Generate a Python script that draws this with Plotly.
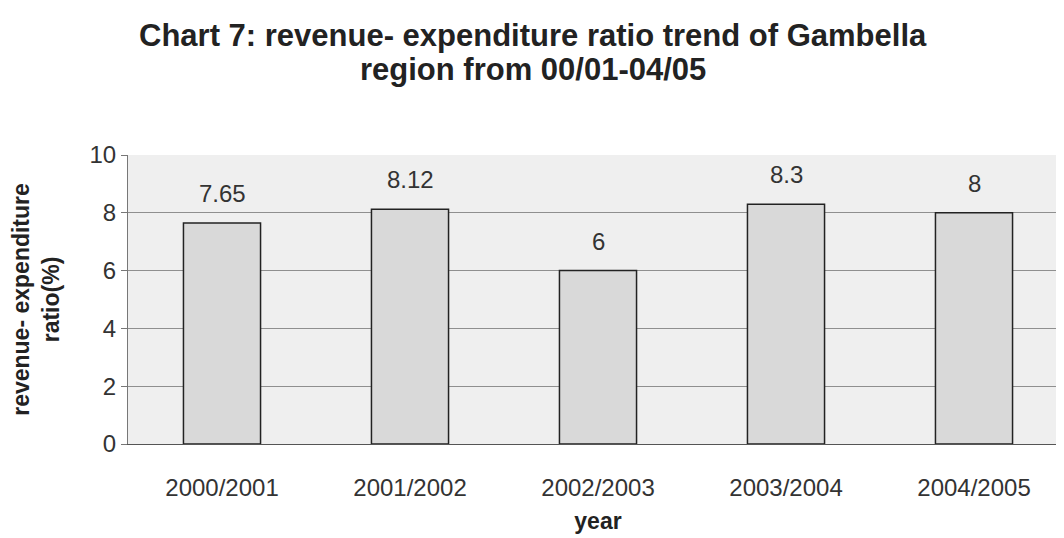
import plotly.graph_objects as go

years = ["2000/2001", "2001/2002", "2002/2003", "2003/2004", "2004/2005"]
ratios = [7.65, 8.12, 6, 8.3, 8]
labels = ["7.65", "8.12", "6", "8.3", "8"]

FONT = "Liberation Sans, Arial"

fig = go.Figure()
fig.add_trace(go.Bar(
    x=years, y=ratios,
    marker=dict(color="#d9d9d9", line=dict(color="#222222", width=1.5)),
    width=0.41, cliponaxis=False,
))

annotations = [
    dict(x=cat, y=val, text=lab, xref="x", yref="y", showarrow=False,
         yanchor="bottom", yshift=14,
         font=dict(size=24, color="#333333", family=FONT))
    for cat, val, lab in zip(years, ratios, labels)
]
annotations += [
    dict(text="<b>Chart 7: revenue- expenditure ratio trend of Gambella</b>",
         xref="paper", yref="paper", x=0.431, y=1.415, xanchor="center", yanchor="middle",
         showarrow=False, font=dict(size=31, color="#222222", family=FONT)),
    dict(text="<b>region from 00/01-04/05</b>",
         xref="paper", yref="paper", x=0.431, y=1.295, xanchor="center", yanchor="middle",
         showarrow=False, font=dict(size=31, color="#222222", family=FONT)),
]

fig.update_layout(
    width=1064, height=538,
    margin=dict(l=120, r=4, t=147, b=102),
    paper_bgcolor="white", plot_bgcolor="#efefef",
    font=dict(family=FONT, color="#222222"),
    showlegend=False,
    annotations=annotations,
)
fig.update_xaxes(
    title=dict(text="<b>year</b>", font=dict(size=23), standoff=13),
    tickfont=dict(size=24, color="#333333"), ticklabelstandoff=22,
    showline=True, linecolor="#555555", ticks="", showgrid=False,
)
fig.update_yaxes(
    title=dict(text="<b>revenue- expenditure<br>ratio(%)</b>", font=dict(size=23), standoff=24),
    range=[0, 10], dtick=2, tickfont=dict(size=24, color="#333333"),
    showgrid=True, gridcolor="#8f8f8f", gridwidth=1,
    showline=True, linecolor="#777777", ticks="outside", ticklen=6, tickcolor="#777777",
    zeroline=False,
)

fig.write_html("out.html")
